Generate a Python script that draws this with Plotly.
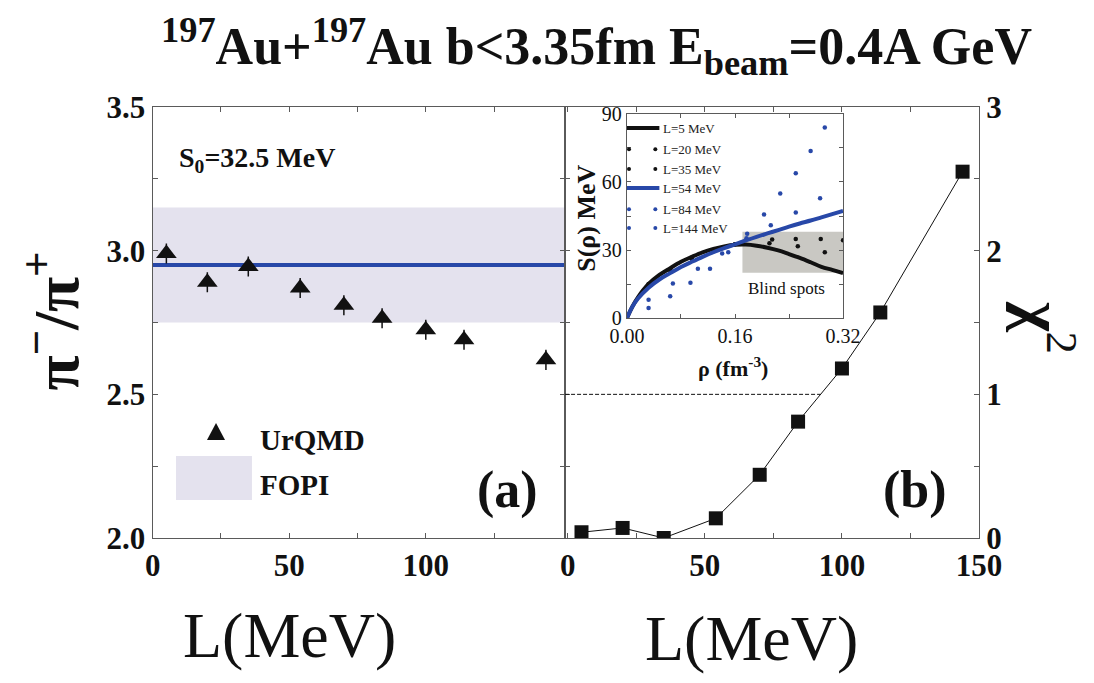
import numpy as np
import plotly.graph_objects as go

FONT = "Liberation Serif"
INK = "#111111"
AXIS = "#5a5a5a"
BLUE = "#2848a8"

# ---- panel (a): pi-/pi+ ratio vs L ----
L_vals = [5, 20, 35, 54, 70, 84, 100, 114, 144]
ratio_urqmd = [2.99, 2.89, 2.945, 2.87, 2.81, 2.765, 2.725, 2.69, 2.62]
ratio_err = [0.035, 0.035, 0.035, 0.035, 0.035, 0.035, 0.035, 0.035, 0.035]
fopi_ratio = 2.95
fopi_err = 0.20

# ---- panel (b): chi^2 vs L ----
chi2 = [0.04, 0.07, 0.0, 0.137, 0.44, 0.81, 1.18, 1.57, 2.55]
chi2_limit = 1.0

# ---- inset: symmetry energy S(rho) ----
rho_grid = [0.0, 0.008, 0.016, 0.032, 0.048, 0.064, 0.08, 0.096, 0.112, 0.128,
            0.144, 0.16, 0.176, 0.192, 0.208, 0.224, 0.24, 0.256, 0.272,
            0.288, 0.304, 0.32]
S_L5 = [0.0, 5.0, 9.0, 15.0, 19.0, 22.0, 24.8, 27.0, 29.0, 30.5, 31.6, 32.3,
        32.4, 31.9, 31.0, 29.8, 28.2, 26.5, 24.6, 22.6, 21.2, 19.8]
S_L54 = [0.0, 5.0, 8.5, 13.4, 17.0, 19.8, 22.5, 24.8, 27.0, 29.0, 30.8, 32.5,
         34.2, 35.8, 37.3, 38.8, 40.3, 41.7, 43.0, 44.4, 45.8, 47.2]
rho_L20 = [0.032, 0.064, 0.096, 0.128, 0.16, 0.211, 0.253, 0.293]
S_L20 = [15.0, 21.5, 26.5, 30.0, 32.5, 33.0, 31.6, 29.0]
rho_L35 = [0.032, 0.064, 0.096, 0.128, 0.16, 0.215, 0.25, 0.287, 0.32]
S_L35 = [14.5, 21.0, 26.0, 29.5, 32.5, 34.6, 34.9, 34.9, 34.3]
rho_L84 = [0.032, 0.068, 0.105, 0.141, 0.177, 0.213, 0.25, 0.286]
S_L84 = [8.1, 15.2, 21.7, 28.5, 35.2, 40.9, 46.5, 52.8]
rho_L144 = [0.032, 0.064, 0.094, 0.123, 0.15, 0.178, 0.203, 0.227, 0.25, 0.272, 0.293]
S_L144 = [4.4, 9.6, 15.5, 21.7, 29.0, 37.2, 45.7, 54.9, 63.9, 73.7, 84.0]
blind_rho = [0.171, 0.32]
blind_S = [20.0, 38.0]

inset_legend = [
    ("L=5 MeV", "line", INK),
    ("L=20 MeV", "dots", INK),
    ("L=35 MeV", "dots", INK),
    ("L=54 MeV", "line", BLUE),
    ("L=84 MeV", "dots", BLUE),
    ("L=144 MeV", "dots", BLUE),
]

fig = go.Figure()

# panel (a)
fig.add_trace(go.Scatter(
    x=L_vals, y=ratio_urqmd, mode="markers", xaxis="x", yaxis="y",
    marker=dict(symbol="triangle-up", size=18, color=INK),
    error_y=dict(type="data", array=ratio_err, color=INK, thickness=1.5, width=0),
    showlegend=False, cliponaxis=False))

# panel (b)
fig.add_trace(go.Scatter(
    x=L_vals, y=chi2, mode="lines+markers", xaxis="x2", yaxis="y2",
    line=dict(color=INK, width=1),
    marker=dict(symbol="square", size=14, color=INK),
    showlegend=False))

# inset curves
for rr, ss, col in [(rho_L20, S_L20, INK), (rho_L35, S_L35, INK),
                    (rho_L84, S_L84, BLUE), (rho_L144, S_L144, BLUE)]:
    fig.add_trace(go.Scatter(x=rr, y=ss, mode="markers", xaxis="x3", yaxis="y3",
                             marker=dict(size=4.5, color=col), showlegend=False))
fig.add_trace(go.Scatter(x=rho_grid, y=S_L5, mode="lines", xaxis="x3", yaxis="y3",
                         line=dict(color=INK, width=4, shape="spline"), showlegend=False))
fig.add_trace(go.Scatter(x=rho_grid, y=S_L54, mode="lines", xaxis="x3", yaxis="y3",
                         line=dict(color=BLUE, width=4, shape="spline"), showlegend=False))

# where chi^2 crosses the limit
seg = [i for i in range(len(chi2) - 1) if chi2[i] < chi2_limit <= chi2[i + 1]][0]
L_cross = float(np.interp(chi2_limit, chi2[seg:seg + 2], L_vals[seg:seg + 2]))

XL = [0.1396, 0.5165]
XR = [0.5165, 0.8949]
YD = [0.2123, 0.8433]
xr_left = [0, 151]
xr_right = [-1, 150]

shapes = [
    dict(type="rect", xref="x domain", yref="y", x0=0, x1=1,
         y0=fopi_ratio - fopi_err, y1=fopi_ratio + fopi_err,
         fillcolor="#e4e2ee", line=dict(width=0), layer="below"),
    dict(type="line", xref="x domain", yref="y", x0=0, x1=1,
         y0=fopi_ratio, y1=fopi_ratio, line=dict(color=BLUE, width=4), layer="below"),
    dict(type="line", xref="x2", yref="y2", x0=xr_right[0], x1=L_cross,
         y0=chi2_limit, y1=chi2_limit, line=dict(color=INK, width=1, dash="4px,2px")),
    dict(type="rect", xref="x3", yref="y3", x0=blind_rho[0], x1=blind_rho[1],
         y0=blind_S[0], y1=blind_S[1], fillcolor="#c9c8c3",
         line=dict(width=0), layer="below"),
    # legend keys of panel (a)
    dict(type="path", xref="paper", yref="paper",
         path="M 0.1892,0.3558 L 0.2057,0.3558 L 0.19745,0.3807 Z",
         fillcolor=INK, line=dict(width=0)),
    dict(type="rect", xref="paper", yref="paper", x0=0.1609, x1=0.2303,
         y0=0.2679, y1=0.3324, fillcolor="#e4e2ee", line=dict(width=0)),
]

annotations = [
    dict(x=0.5457, y=0.932, xref="paper", yref="paper",
         text="<b><sup>197</sup>Au+<sup>197</sup>Au b&lt;3.35fm E<sub>beam</sub>=0.4A GeV</b>",
         font=dict(family=FONT, size=52, color=INK)),
    dict(x=0.265, y=0.07, xref="paper", yref="paper",
         text="L(MeV)", font=dict(family=FONT, size=64, color=INK)),
    dict(x=0.687, y=0.065, xref="paper", yref="paper",
         text="L(MeV)", font=dict(family=FONT, size=64, color=INK)),
    dict(x=0.047, y=0.53, xref="paper", yref="paper", textangle=-90,
         text="<b>π<sup>−</sup>/π<sup>+</sup></b>", font=dict(family=FONT, size=64, color=INK)),
    dict(x=0.956, y=0.52, xref="paper", yref="paper", textangle=90,
         text="<b>χ</b><sup>2</sup>", font=dict(family=FONT, size=64, color=INK)),
    dict(x=0.235, y=0.766, xref="paper", yref="paper",
         text="<b>S<sub>0</sub>=32.5 MeV</b>", font=dict(family=FONT, size=28, color=INK)),
    dict(x=0.464, y=0.283, xref="paper", yref="paper",
         text="<b>(a)</b>", font=dict(family=FONT, size=52, color=INK)),
    dict(x=0.836, y=0.283, xref="paper", yref="paper",
         text="<b>(b)</b>", font=dict(family=FONT, size=52, color=INK)),
    dict(x=0.236, y=0.356, xref="paper", yref="paper", xanchor="left",
         text="<b>UrQMD</b>", font=dict(family=FONT, size=29, color=INK)),
    dict(x=0.236, y=0.29, xref="paper", yref="paper", xanchor="left",
         text="<b>FOPI</b>", font=dict(family=FONT, size=29, color=INK)),
    dict(x=0.237, y=12.8, xref="x3", yref="y3",
         text="Blind spots", font=dict(family=FONT, size=17, color=INK)),
    dict(x=0.670, y=0.4627, xref="paper", yref="paper",
         text="<b>ρ (fm<sup>-3</sup>)</b>", font=dict(family=FONT, size=22, color=INK)),
    dict(x=0.5365, y=0.681, xref="paper", yref="paper", textangle=-90,
         text="<b>S(ρ) MeV</b>", font=dict(family=FONT, size=26, color=INK)),
]

# inset legend
leg_y = [83.8, 74.5, 65.7, 57.3, 48.0, 39.7]
for (label, kind, col), yy in zip(inset_legend, leg_y):
    if kind == "line":
        shapes.append(dict(type="line", xref="x3", yref="y3", x0=0, x1=0.048,
                           y0=yy, y1=yy, line=dict(color=col, width=4)))
    else:
        for xx in (0.003, 0.042):
            shapes.append(dict(type="circle", xref="x3", yref="y3",
                               xsizemode="pixel", ysizemode="pixel",
                               xanchor=xx, yanchor=yy, x0=-2, x1=2, y0=-2, y1=2,
                               fillcolor=col, line=dict(width=0)))
    annotations.append(dict(x=0.051, y=yy, xref="x3", yref="y3",
                            xanchor="left", text=label,
                            font=dict(family=FONT, size=13, color="#222222")))

for a in annotations:
    a.setdefault("xanchor", "center")
    a.setdefault("yanchor", "middle")
    a["showarrow"] = False

tickfont = dict(family=FONT, size=31, color=INK, weight="bold")
axis_common = dict(showline=True, linecolor=AXIS, linewidth=1.3, ticks="inside",
                   ticklen=5, tickcolor=AXIS, mirror="ticks", showgrid=False,
                   zeroline=False, tickfont=tickfont, automargin=False)
inset_axis = dict(showline=True, linecolor=AXIS, linewidth=1.2, ticks="inside", ticklen=4,
                  tickcolor=AXIS, mirror="ticks", showgrid=False, zeroline=False,
                  tickfont=dict(family=FONT, size=20, color=INK), automargin=False)

xt_left = [0, 25, 50, 75, 100, 125]
xt_right = [0, 25, 50, 75, 100, 125, 150]
yt_left = [2.0, 2.25, 2.5, 2.75, 3.0, 3.25, 3.5]
yt_right = [0, 0.5, 1.0, 1.5, 2.0, 2.5, 3.0]

fig.update_layout(
    width=1094, height=683, margin=dict(l=0, r=0, t=0, b=0, autoexpand=False),
    paper_bgcolor="white", plot_bgcolor="white", showlegend=False,
    xaxis=dict(domain=XL, anchor="y", range=xr_left, tickvals=xt_left,
               ticktext=[str(v) if v % 50 == 0 else "" for v in xt_left], **axis_common),
    yaxis=dict(domain=YD, anchor="x", range=[2.0, 3.5], tickvals=yt_left,
               ticktext=[f"{v:.1f}" if abs(v * 2 - round(v * 2)) < 1e-9 else "" for v in yt_left],
               **axis_common),
    xaxis2=dict(domain=XR, anchor="y2", range=xr_right, tickvals=xt_right,
                ticktext=[str(v) if v % 50 == 0 else "" for v in xt_right], **axis_common),
    yaxis2=dict(domain=YD, anchor="x2", side="right", range=[0, 3], tickvals=yt_right,
                ticktext=[f"{v:g}" if v == int(v) else "" for v in yt_right], **axis_common),
    xaxis3=dict(domain=[0.5731, 0.7706], anchor="y3", range=[0, 0.32],
                tickvals=[0, 0.08, 0.16, 0.24, 0.32],
                ticktext=["0.00", "", "0.16", "", "0.32"], **inset_axis),
    yaxis3=dict(domain=[0.5344, 0.8331], anchor="x3", range=[0, 90],
                tickvals=[0, 15, 30, 45, 60, 75, 90],
                ticktext=["0", "", "30", "", "60", "", "90"], **inset_axis),
    shapes=shapes, annotations=annotations,
)

fig.write_html("out.html")
